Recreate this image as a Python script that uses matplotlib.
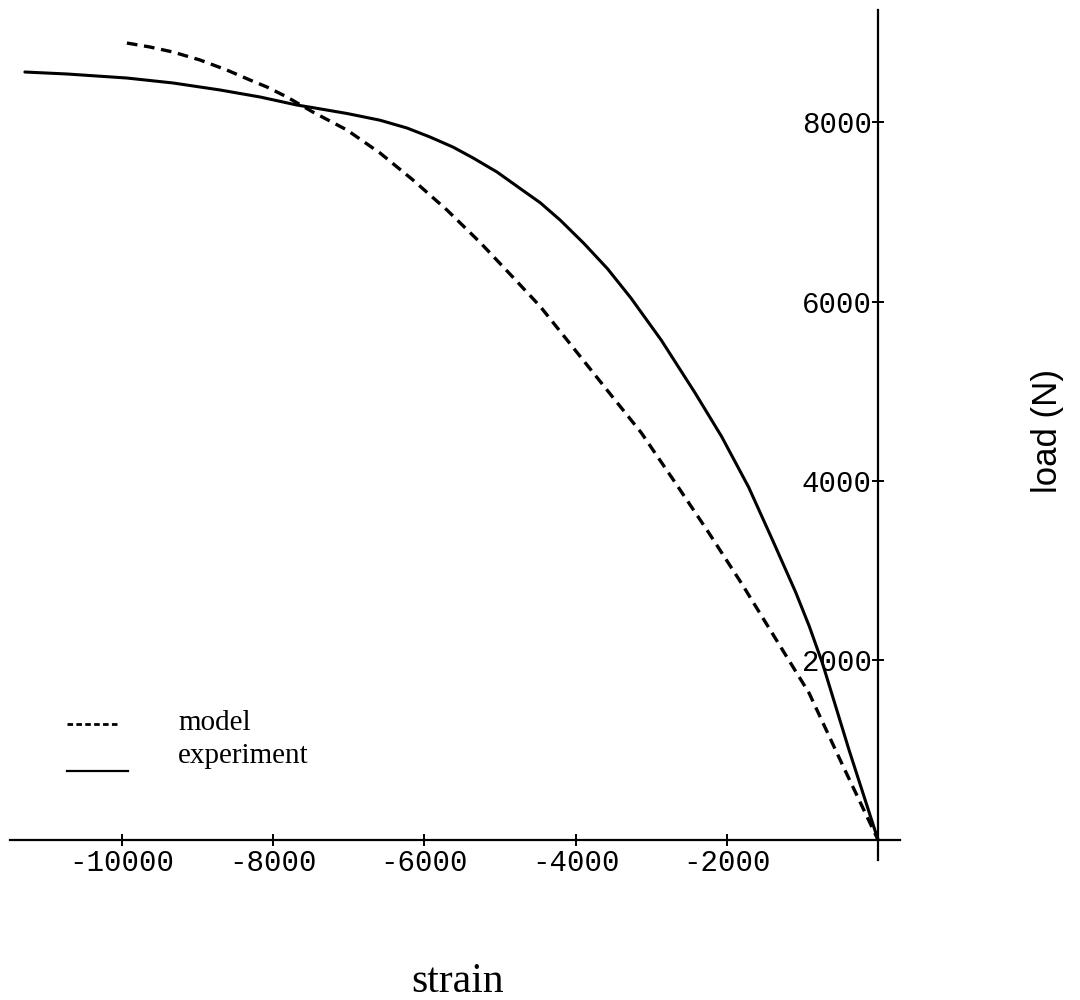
import matplotlib
matplotlib.use("Agg")
import matplotlib.pyplot as plt
from matplotlib.lines import Line2D

# Experiment (solid)
exp_strain = [-11283, -10728, -9934, -9326, -8704, -8175, -7685, -7474, -7024, -6587,
              -6230, -5926, -5622, -5357, -5040, -4735, -4467, -4200, -3889, -3578,
              -3267, -2867, -2422, -2067, -1711, -1400, -1089, -911, -733, -384, 0]
exp_load = [8557, 8535, 8490, 8435, 8357, 8279, 8189, 8160, 8095, 8020,
            7933, 7833, 7721, 7600, 7443, 7260, 7100, 6904, 6646, 6365,
            6037, 5569, 4984, 4492, 3930, 3350, 2759, 2384, 1963, 1003, 0]

# Model (dashed)
model_strain = [-9934, -9630, -9326, -8968, -8612, -8307, -8082, -7818, -7474, -7024,
                -6587, -6151, -5701, -5265, -4828, -4467, -4022, -3578, -3133, -2689,
                -2244, -1800, -1356, -911, -467, 0]
model_load = [8880, 8836, 8780, 8691, 8579, 8468, 8390, 8279, 8111, 7911,
              7655, 7354, 7019, 6660, 6270, 5944, 5475, 5007, 4539, 3990,
              3430, 2852, 2244, 1635, 830, 0]

xticks = [-10000, -8000, -6000, -4000, -2000]
yticks = [2000, 4000, 6000, 8000]

fig = plt.figure(figsize=(10.8, 10.0), dpi=100)
ax = fig.add_axes([10 / 1080, 140 / 1000, 890 / 1080, 850 / 1000])
ax.set_xlim(-11480, 290)
ax.set_ylim(-223, 9248)

ax.plot(exp_strain, exp_load, color="black", lw=2.2, solid_capstyle="round",
        solid_joinstyle="round")
ax.plot(model_strain, model_load, color="black", lw=2.4, linestyle=(0, (3.2, 2.0)))

for s in ["top", "right"]:
    ax.spines[s].set_visible(False)
ax.spines["left"].set_position(("data", 0))
ax.spines["bottom"].set_position(("data", 0))
ax.spines["left"].set_linewidth(1.6)
ax.spines["bottom"].set_linewidth(1.6)

mono = "Liberation Mono"
ax.set_xticks(xticks)
ax.set_xticklabels([str(v) for v in xticks], fontfamily=mono, fontsize=21)
ax.set_yticks(yticks)
ax.set_yticklabels([str(v) for v in yticks], fontfamily=mono, fontsize=21)
ax.tick_params(axis="x", direction="inout", length=9, width=1.4, pad=2)
ax.tick_params(axis="y", direction="inout", length=9, width=1.4, pad=0)

# legend (manual)
fig.add_artist(Line2D([67 / 1080, 118 / 1080], [1 - 724 / 1000, 1 - 724 / 1000],
                      color="black", lw=2.0, linestyle=(0, (2.0, 1.2))))
fig.add_artist(Line2D([67 / 1080, 128 / 1080], [1 - 771 / 1000, 1 - 771 / 1000],
                      color="black", lw=1.6))
fig.text(178 / 1080, 1 - 730 / 1000, "model", family="Liberation Serif", fontsize=21,
         va="baseline", ha="left")
fig.text(178 / 1080, 1 - 763 / 1000, "experiment", family="Liberation Serif", fontsize=21,
         va="baseline", ha="left")

fig.text(458 / 1080, 1 - 992 / 1000, "strain", family="Liberation Serif", fontsize=30,
         va="baseline", ha="center")
fig.text(1048 / 1080, 1 - 431 / 1000, "load (N)", family="Liberation Sans", fontsize=25,
         rotation=90, va="center", ha="center")

fig.savefig("out.png", dpi=100)
